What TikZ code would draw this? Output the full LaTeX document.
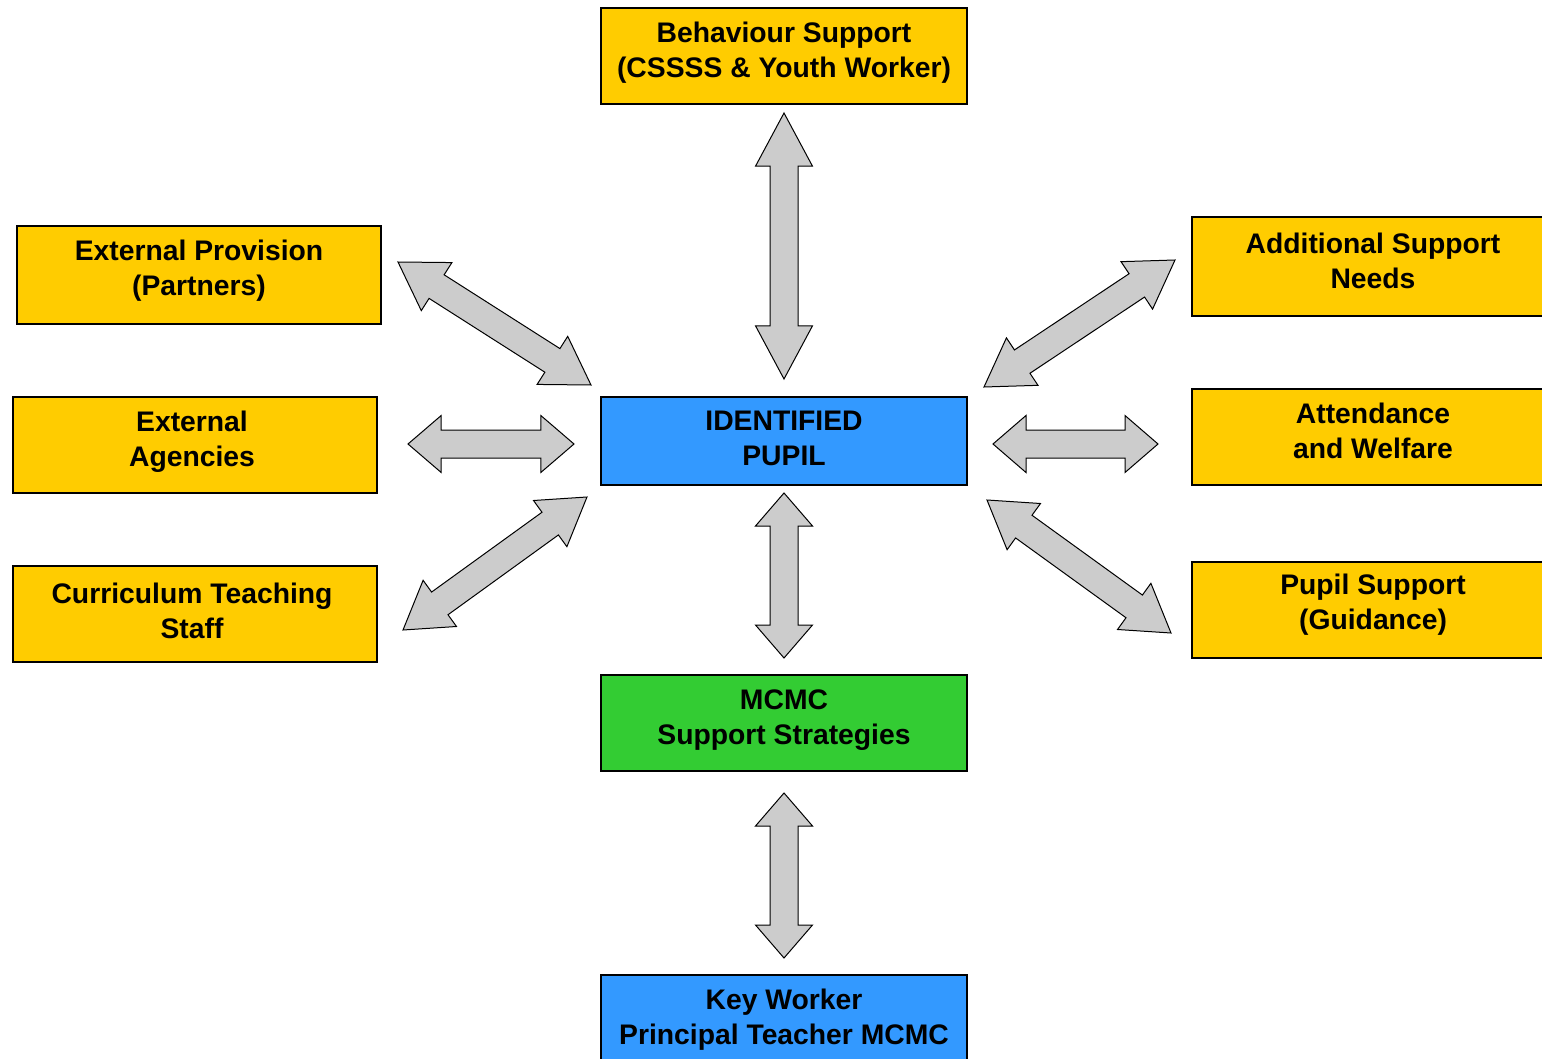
\documentclass[tikz,border=0pt]{standalone}
\usepackage{fontspec}
\setmainfont{Liberation Sans}
\usetikzlibrary{calc}
\definecolor{boxyellow}{HTML}{FFCC00}
\definecolor{boxblue}{HTML}{3399FF}
\definecolor{boxgreen}{HTML}{33CC33}
\definecolor{arrgray}{HTML}{CCCCCC}
\tikzset{
  card/.style={draw=black, line width=1.1pt, inner sep=0pt,
    minimum width=366, minimum height=96},
  ycard/.style={card, fill=boxyellow},
  bcard/.style={card, fill=boxblue},
  gcard/.style={card, fill=boxgreen},
  cardtext/.style={align=center, inner sep=0pt,
    font=\bfseries\fontsize{28.3}{35}\selectfont},
  fatarrow/.style={draw=black, line width=1pt, fill=arrgray, line join=miter}
}
\newcommand\fatarr[2]{%
\draw[fatarrow] (#1)
 -- ($(#1)!0.2!(#2)!28.5pt!90:(#2)$)
 -- ($(#1)!0.2!(#2)!14pt!90:(#2)$)
 -- ($(#2)!0.2!(#1)!14pt!-90:(#1)$)
 -- ($(#2)!0.2!(#1)!28.5pt!-90:(#1)$)
 -- (#2)
 -- ($(#2)!0.2!(#1)!28.5pt!90:(#1)$)
 -- ($(#2)!0.2!(#1)!14pt!90:(#1)$)
 -- ($(#1)!0.2!(#2)!14pt!-90:(#2)$)
 -- ($(#1)!0.2!(#2)!28.5pt!-90:(#2)$)
 -- cycle;}
\begin{document}
\begin{tikzpicture}[x=1pt,y=-1pt]
\useasboundingbox[fill=white] (0,0) rectangle (1542,1059);
% boxes
\node[ycard] (bs) at (784,56) {};
\node[ycard, minimum width=364, minimum height=98] (ep) at (199,275) {};
\node[ycard, minimum width=364] (ea) at (195,445) {};
\node[ycard, minimum width=364] (ct) at (195,614) {};
\node[bcard, minimum height=88] (ip) at (784,441) {};
\node[gcard] (mc) at (784,723) {};
\node[bcard] (kw) at (784,1023) {};
\node[ycard, minimum height=99] (as) at (1375,266.5) {};
\node[ycard] (aw) at (1375,437) {};
\node[ycard] (ps) at (1375,610) {};
% texts
\node[cardtext] (bs-t) at ([yshift=3pt]bs.center) {Behaviour Support\\(CSSSS \& Youth Worker)};
\node[cardtext] (ep-t) at ([yshift=4pt]ep.center) {External Provision\\(Partners)};
\node[cardtext] (ea-t) at ([xshift=-3pt,yshift=3pt]ea.center) {External\\Agencies};
\node[cardtext] (ct-t) at ([xshift=-3pt,yshift=3pt]ct.center) {Curriculum Teaching\\Staff};
\node[cardtext] (ip-t) at ([yshift=3pt]ip.center) {IDENTIFIED\\PUPIL};
\node[cardtext] (mc-t) at ([yshift=3pt]mc.center) {MCMC\\Support Strategies};
\node[cardtext] (kw-t) at ([yshift=3pt]kw.center) {Key Worker\\Principal Teacher MCMC};
\node[cardtext] (as-t) at ([xshift=-2pt,yshift=6pt]as.center) {Additional Support\\Needs};
\node[cardtext] (aw-t) at ([xshift=-2pt,yshift=6pt]aw.center) {Attendance\\and Welfare};
\node[cardtext] (ps-t) at ([xshift=-2pt,yshift=5pt]ps.center) {Pupil Support\\(Guidance)};
% arrow end points
\coordinate (a1s) at (784,113);  \coordinate (a1e) at (784,379);
\coordinate (a2s) at (398,262);  \coordinate (a2e) at (591,385);
\coordinate (a3s) at (408,444);  \coordinate (a3e) at (574,444);
\coordinate (a4s) at (403,630);  \coordinate (a4e) at (587,497);
\coordinate (a5s) at (784,493);  \coordinate (a5e) at (784,658);
\coordinate (a6s) at (784,793);  \coordinate (a6e) at (784,958);
\coordinate (a7s) at (984,387);  \coordinate (a7e) at (1175,260);
\coordinate (a8s) at (993,444);  \coordinate (a8e) at (1158,444);
\coordinate (a9s) at (987,500);  \coordinate (a9e) at (1171,633);
\fatarr{a1s}{a1e}
\fatarr{a2s}{a2e}
\fatarr{a3s}{a3e}
\fatarr{a4s}{a4e}
\fatarr{a5s}{a5e}
\fatarr{a6s}{a6e}
\fatarr{a7s}{a7e}
\fatarr{a8s}{a8e}
\fatarr{a9s}{a9e}
\end{tikzpicture}
\end{document}
